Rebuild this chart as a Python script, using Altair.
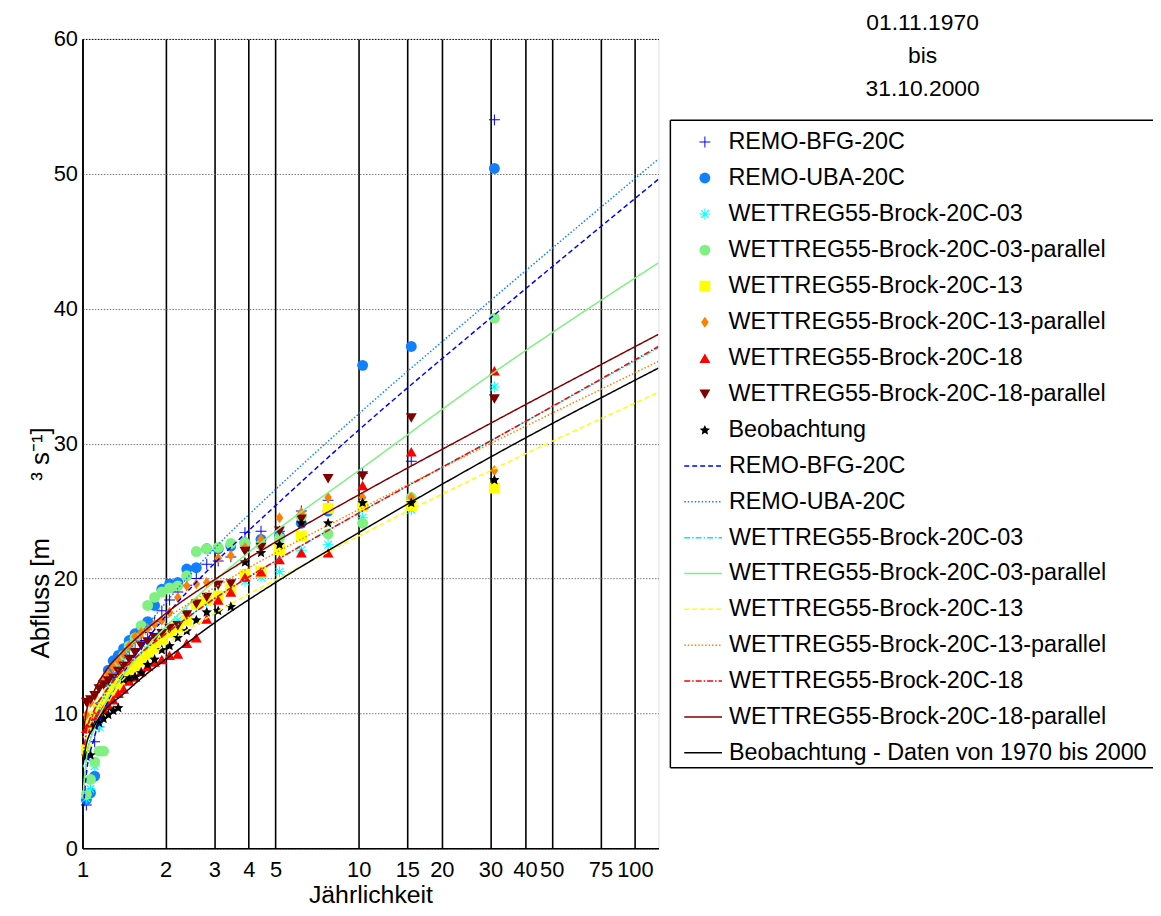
import altair as alt
import pandas as pd

FONT = "Liberation Sans"

# ---------------- axis ticks ----------------
T_TICKS = [1, 2, 3, 4, 5, 10, 15, 20, 30, 40, 50, 75, 100]
Q_TICKS = [0, 10, 20, 30, 40, 50, 60]

# ---------------- plotting positions (Jährlichkeit) of the 30 ranked values ----------------
T_PLOT = [31.0, 15.5, 10.333, 7.75, 6.2, 5.167, 4.429, 3.875, 3.444, 3.1,
          2.818, 2.583, 2.385, 2.214, 2.067, 1.9375, 1.824, 1.722, 1.632, 1.55,
          1.476, 1.409, 1.348, 1.292, 1.24, 1.192, 1.148, 1.107, 1.069, 1.033]

PT_NAMES = ["REMO-BFG-20C", "REMO-UBA-20C", "WETTREG55-Brock-20C-03",
            "WETTREG55-Brock-20C-03-parallel", "WETTREG55-Brock-20C-13",
            "WETTREG55-Brock-20C-13-parallel", "WETTREG55-Brock-20C-18",
            "WETTREG55-Brock-20C-18-parallel", "Beobachtung"]

BFG = [54.0, 28.7, 27.8, 25.8, 25.0, 23.5, 23.5, 23.4, 21.6, 21.3,
       21.05, 20.0, 19.5, 19.0, 18.4, 17.6, 16.8, 16.0, 15.4, 14.8,
       14.2, 13.6, 13.0, 12.4, 11.5, 10.5, 9.0, 7.9, 5.0, 3.2]
UBA = [50.4, 37.2, 35.8, 25.0, 24.1, 23.15, 22.9, 22.65, 22.4, 22.2,
       22.2, 20.8, 20.7, 19.7, 19.6, 19.2, 18.0, 16.8, 16.3, 15.9,
       15.4, 14.8, 14.3, 13.9, 13.2, 12.3, 10.5, 5.35, 4.1, 3.6]
W03 = [34.2, 25.1, 24.5, 22.5, 22.1, 20.5, 20.1, 19.8, 19.2, 18.8,
       18.3, 18.0, 17.4, 16.9, 16.4, 16.0, 15.4, 14.7, 14.2, 13.8,
       13.3, 12.8, 12.2, 11.6, 11.0, 10.2, 9.0, 6.1, 4.4, 3.7]
W03P = [39.3, 26.0, 24.1, 23.3, 24.6, 23.0, 22.5, 22.65, 22.6, 22.3,
        22.2, 22.0, 20.2, 19.45, 19.3, 19.0, 18.6, 18.0, 16.5, 15.6,
        15.0, 14.3, 13.5, 12.6, 11.5, 7.2, 7.2, 6.4, 5.1, 4.0]
W13 = [26.7, 25.4, 25.35, 25.2, 23.15, 22.15, 20.5, 20.3, 19.2, 18.7,
       18.4, 18.1, 16.9, 16.4, 16.0, 15.5, 14.9, 14.4, 13.9, 13.5,
       13.2, 12.7, 12.2, 11.8, 11.3, 10.8, 10.3, 9.8, 9.2, 7.3]
W13P = [28.0, 26.0, 26.0, 26.0, 24.9, 24.5, 22.9, 22.3, 21.7, 21.5,
        19.7, 19.6, 19.45, 18.6, 17.5, 16.9, 16.6, 16.3, 16.0, 15.7,
        15.0, 14.4, 13.9, 13.4, 12.9, 12.5, 12.0, 11.3, 10.8, 9.9]
W18 = [35.4, 29.4, 26.9, 21.9, 21.9, 21.4, 20.5, 20.1, 19.0, 18.4,
       17.0, 15.6, 15.2, 14.4, 14.3, 14.0, 13.8, 13.5, 13.1, 12.7,
       12.4, 11.8, 11.5, 11.0, 10.6, 10.3, 10.0, 9.8, 9.3, 8.9]
W18P = [33.3, 31.9, 27.6, 27.4, 24.4, 23.5, 22.3, 22.0, 19.6, 19.5,
        18.6, 18.1, 17.3, 16.5, 16.3, 15.9, 15.6, 15.3, 15.0, 14.5,
        14.0, 13.5, 13.1, 12.6, 12.4, 12.1, 11.8, 11.3, 11.0, 10.8]
BEOB = [27.3, 25.6, 25.6, 24.1, 24.1, 22.5, 21.9, 21.2, 17.9, 17.6,
        17.5, 16.9, 16.1, 15.6, 15.0, 14.7, 14.0, 13.6, 13.0, 12.7,
        12.6, 12.5, 10.4, 10.2, 9.9, 9.6, 9.3, 9.1, 6.9, 6.8]

PT_VALUES = [BFG, UBA, W03, W03P, W13, W13P, W18, W18P, BEOB]

PT_COLORS = ["#0000FF", "#1080FF", "#00FFFF", "#80F080", "#FFFF00",
             "#FF8000", "#FF0000", "#800000", "#000000"]

PLUS = "M-1,-0.09H1V0.09H-1Z M-0.09,-1H0.09V1H-0.09Z"
ASTER = ("M-1,-0.09H1V0.09H-1Z M-0.09,-1H0.09V1H-0.09Z "
         "M-0.63,-0.77L0.77,0.63L0.63,0.77L-0.77,-0.63Z "
         "M-0.77,0.63L0.63,-0.77L0.77,-0.63L-0.63,0.77Z")
DIAMOND = "M0,-1L0.7,0L0,1L-0.7,0Z"
STAR = ("M0,-1L0.27,-0.37L0.951,-0.309L0.44,0.14L0.588,0.809L0,0.46"
        "L-0.588,0.809L-0.44,0.14L-0.951,-0.309L-0.27,-0.37Z")
PT_SHAPES = [PLUS, "circle", ASTER, "circle", "square", DIAMOND,
             "triangle-up", "triangle-down", STAR]
PT_SIZES = [121, 121, 121, 49, 100, 150, 150, 150, 300]

# ---------------- fitted curves ----------------
T_LINE = [1.005, 1.03, 1.1, 1.2, 1.4, 1.7, 2, 3, 5, 10, 30, 121.7]

LN_NAMES = ["REMO-BFG-20C", "REMO-UBA-20C", "WETTREG55-Brock-20C-03",
            "WETTREG55-Brock-20C-03-parallel", "WETTREG55-Brock-20C-13",
            "WETTREG55-Brock-20C-13-parallel", "WETTREG55-Brock-20C-18",
            "WETTREG55-Brock-20C-18-parallel",
            "Beobachtung - Daten von 1970 bis 2000"]

L_BFG = [2.5, 5.3, 8.1, 10.3, 12.9, 15.4, 17.2, 21.1, 25.4, 31.0, 39.3, 49.6]
L_UBA = [3.3, 6.2, 9.1, 11.2, 13.9, 16.4, 18.2, 22.2, 26.6, 32.2, 40.6, 51.1]
L_W03 = [6.0, 8.2, 10.1, 11.5, 13.2, 14.8, 15.9, 18.5, 21.3, 24.85, 30.2, 37.1]
L_W03P = [4.0, 6.4, 8.8, 10.6, 12.8, 14.9, 16.4, 19.8, 23.5, 28.0, 35.1, 43.4]
L_W13 = [6.8, 8.2, 9.8, 11.0, 12.5, 14.0, 15.1, 17.4, 19.9, 23.15, 28.0, 33.8]
L_W13P = [8.2, 9.9, 11.6, 12.9, 14.4, 15.9, 17.0, 19.3, 21.9, 25.1, 30.0, 36.1]
L_W18 = [6.8, 8.5, 10.2, 11.5, 13.2, 14.8, 15.9, 18.5, 21.3, 24.85, 30.2, 37.2]
L_W18P = [8.4, 10.0, 11.6, 13.0, 14.6, 16.2, 17.4, 19.9, 22.7, 26.2, 31.5, 38.1]
L_BEOB = [6.2, 7.6, 9.0, 10.2, 11.4, 12.9, 14.0, 16.7, 19.7, 23.4, 29.0, 35.6]

LN_VALUES = [L_BFG, L_UBA, L_W03, L_W03P, L_W13, L_W13P, L_W18, L_W18P, L_BEOB]

LN_COLORS = ["#0000FF", "#1080FF", "#00E8F0", "#80F080", "#FFFF00",
             "#FF8000", "#FF0000", "#800000", "#000000"]
LN_DASHES = [[5, 3], [1.5, 2], [6, 2, 1.5, 2], [1, 0], [5, 3],
             [1.5, 2], [6, 2, 1.5, 2], [1, 0], [1, 0]]
LN_WIDTHS = [1.5, 1.5, 1.5, 1.5, 1.5, 1.5, 1.5, 1.5, 3.0]

TITLE_LINES = ["01.11.1970", "bis", "31.10.2000"]
X_TITLE = "Jährlichkeit"
NB = "\u00a0"
Y_TITLE = "Abfluss [m" + NB * 8 + "³" + NB + "s⁻¹]"

# ---------------- tables ----------------
pts_rows = []
for name, vals in zip(PT_NAMES, PT_VALUES):
    for t, q in zip(T_PLOT, vals):
        pts_rows.append({"T": t, "Q": q, "series": name})
pts_df = pd.DataFrame(pts_rows)

ln_rows = []
for i, (name, vals) in enumerate(zip(LN_NAMES, LN_VALUES)):
    for t, q in zip(T_LINE, vals):
        ln_rows.append({"T": t, "Q": q, "line": name, "k": i})
ln_df = pd.DataFrame(ln_rows)

W, H = 580, 815

xscale = alt.Scale(type="log", domain=[1, 121.7], nice=False)
yscale = alt.Scale(domain=[0, 60], nice=False, zero=False)

xaxis = alt.Axis(values=T_TICKS, format="d", labelFont=FONT, labelFontSize=22,
                 labelColor="black", labelPadding=11, labelOverlap=False,
                 labelFlush=False, titleFont=FONT, titleFontSize=25,
                 titleFontWeight="normal", titleColor="black", titlePadding=3,
                 grid=True, gridColor="black", gridWidth=1.6, gridOpacity=1,
                 ticks=False, domainColor="black", domainWidth=1.5)
yaxis = alt.Axis(values=Q_TICKS, labelFont=FONT, labelFontSize=22,
                 labelColor="black", labelPadding=5, titleFont=FONT,
                 titleFontSize=26, titleFontWeight="normal", titleColor="black",
                 titlePadding=0, titleY=507, grid=True,
                 gridColor=alt.condition("datum.value == 0 || datum.value == 60",
                                         alt.value("black"), alt.value("#777777")),
                 gridDash=[1.5, 1.5], gridWidth=1, ticks=False,
                 domainColor="black", domainWidth=1.5)

leg_pts = alt.Legend(title=None, orient="none", legendX=615, legendY=92,
                     labelFont=FONT, labelFontSize=23.5, labelColor="black",
                     labelLimit=800, labelOffset=12, rowPadding=11.3,
                     padding=0, symbolSize=80, symbolStrokeWidth=0,
                     symbolOpacity=1)
leg_lns = alt.Legend(title=None, orient="none", legendX=605, legendY=410,
                     labelFont=FONT, labelFontSize=23.5, labelColor="black",
                     labelLimit=800, labelOffset=6, rowPadding=4.1,
                     padding=0, symbolType="stroke", symbolSize=1444)

points = alt.Chart(pts_df).mark_point(filled=True, opacity=1, strokeWidth=0).encode(
    x=alt.X("T:Q", scale=xscale, axis=xaxis, title=X_TITLE),
    y=alt.Y("Q:Q", scale=yscale, axis=yaxis, title=Y_TITLE),
    color=alt.Color("series:N", scale=alt.Scale(domain=PT_NAMES, range=PT_COLORS), legend=leg_pts),
    shape=alt.Shape("series:N", scale=alt.Scale(domain=PT_NAMES, range=PT_SHAPES), legend=leg_pts),
    size=alt.Size("series:N", scale=alt.Scale(domain=PT_NAMES, range=PT_SIZES), legend=None),
)

lines = alt.Chart(ln_df).mark_line(interpolate="monotone", clip=True).encode(
    x=alt.X("T:Q", scale=xscale),
    y=alt.Y("Q:Q", scale=yscale),
    color=alt.Color("line:N", scale=alt.Scale(domain=LN_NAMES, range=LN_COLORS), legend=leg_lns),
    strokeDash=alt.StrokeDash("line:N", scale=alt.Scale(domain=LN_NAMES, range=LN_DASHES), legend=leg_lns),
    strokeWidth=alt.StrokeWidth("line:N", scale=alt.Scale(domain=LN_NAMES, range=LN_WIDTHS), legend=leg_lns),
    order=alt.Order("T:Q"),
)

one = pd.DataFrame({"k": [0]})
box_top = alt.Chart(one).mark_rule(color="black", strokeWidth=1.5).encode(
    x=alt.value(592), x2=alt.value(1085), y=alt.value(82))
box_bot = alt.Chart(one).mark_rule(color="black", strokeWidth=1.5).encode(
    x=alt.value(592), x2=alt.value(1085), y=alt.value(734))
box_left = alt.Chart(one).mark_rule(color="black", strokeWidth=1.5).encode(
    x=alt.value(592), y=alt.value(82), y2=alt.value(734))

title = alt.Chart(one).mark_text(text=TITLE_LINES, font=FONT, fontSize=23,
                                 align="center", baseline="middle",
                                 lineHeight=33, color="black").encode(
    x=alt.value(846), y=alt.value(-16))

chart = alt.layer(points, lines, box_top, box_bot, box_left, title).resolve_scale(
    color="independent", shape="independent", size="independent",
    strokeDash="independent", strokeWidth="independent"
).properties(
    width=W, height=H,
    autosize=alt.AutoSizeParams(type="none"),
    padding={"left": 75, "top": 28, "right": 498, "bottom": 57},
).configure_view(stroke="black", strokeWidth=1.5).configure(background="white")

chart.save("out.html", embed_options={"renderer": "svg", "actions": False})
